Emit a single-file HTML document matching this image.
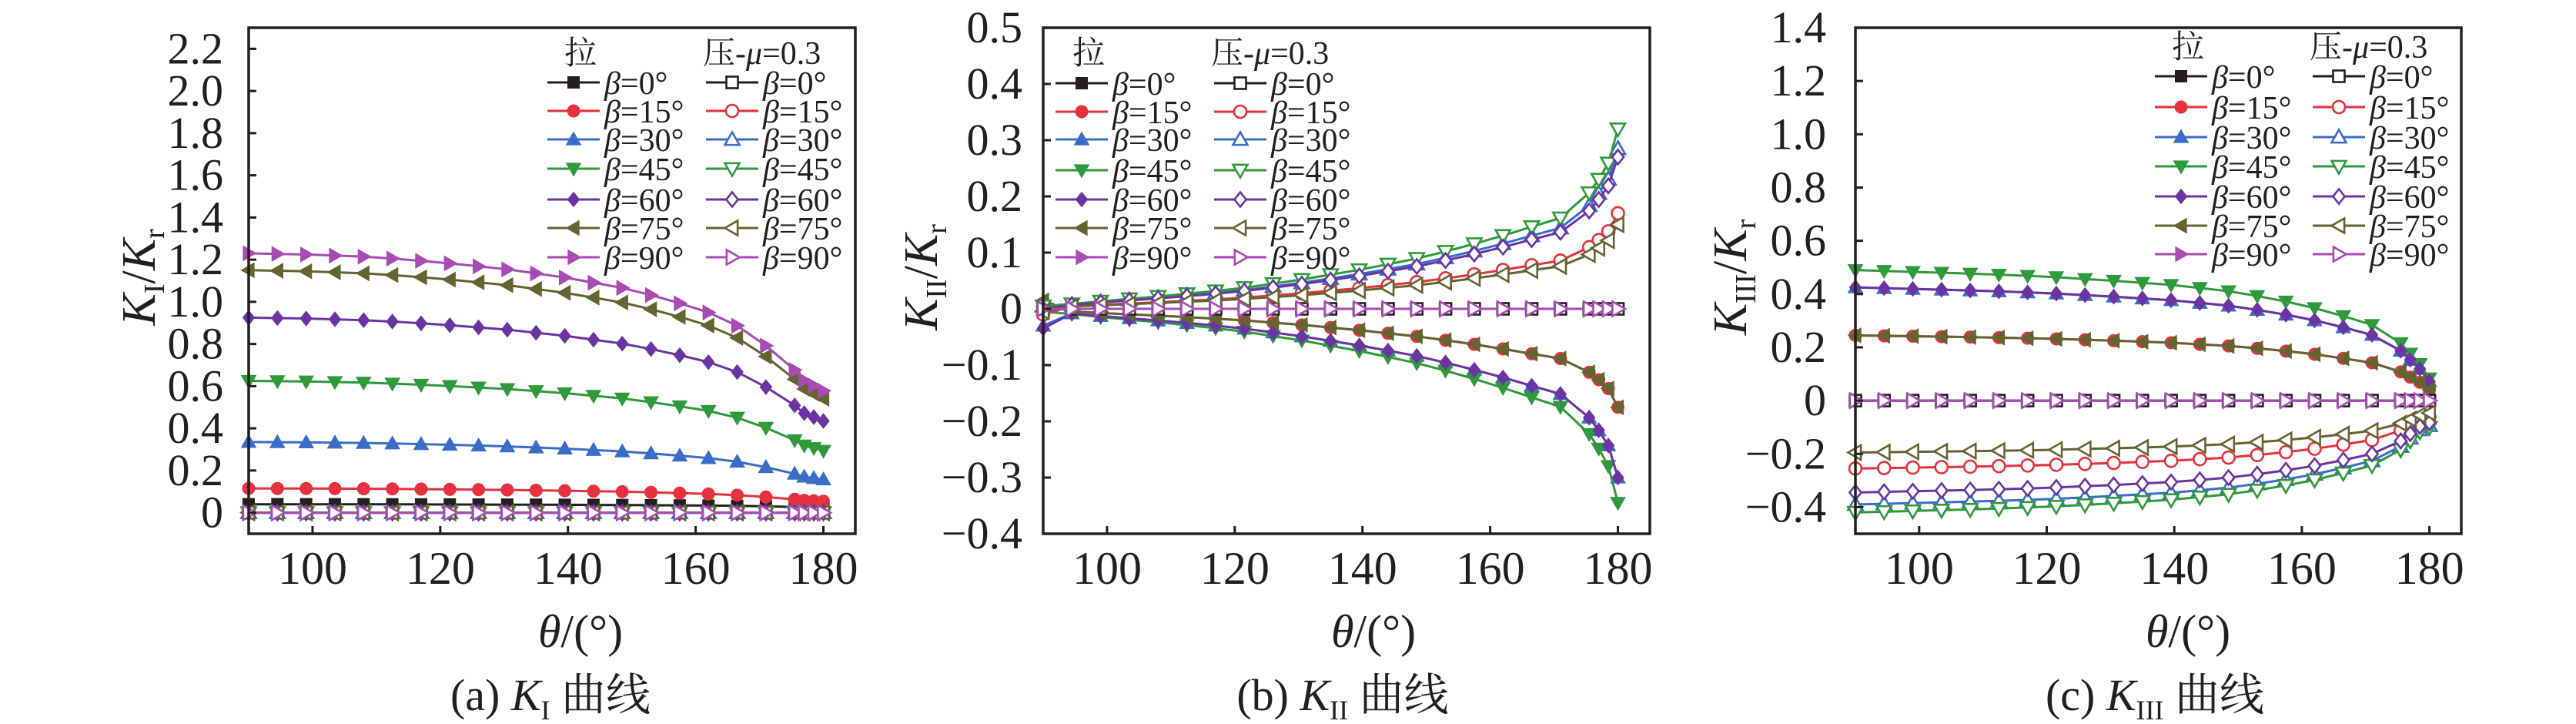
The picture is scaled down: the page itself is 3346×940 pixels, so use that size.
<!DOCTYPE html>
<html><head><meta charset="utf-8">
<style>
html,body{margin:0;padding:0;background:#fff;}
svg{display:block;}
.ser{font-family:"Liberation Serif","Noto Serif CJK SC",serif;}
.cjk{font-family:"Liberation Serif","Noto Serif CJK SC","Noto Sans CJK SC",serif;}
</style></head>
<body>
<svg id="s" xmlns="http://www.w3.org/2000/svg" width="3346" height="940" viewBox="0 0 3346 940"></svg>
<script>
const TH=[];for(let t=90;t<=175.6;t+=4.5)TH.push(+t.toFixed(1));TH.push(177,178.5,180);
function interp(pts,x){for(let i=0;i<pts.length-1;i++){if(x>=pts[i][0]&&x<=pts[i+1][0]){const t=(x-pts[i][0])/(pts[i+1][0]-pts[i][0]);return pts[i][1]+t*(pts[i+1][1]-pts[i][1]);}}return pts[pts.length-1][1];}
const fA=[[90,1],[100,0.995],[110,0.985],[120,0.965],[130,0.94],[140,0.905],[150,0.86],[160,0.79],[165,0.745],[170,0.665],[175.5,0.55],[177,0.51],[178.5,0.49],[180,0.47]];
const fB=[[90,0],[95,0.03],[100,0.045],[110,0.075],[120,0.11],[130,0.16],[140,0.22],[150,0.29],[160,0.385],[165,0.44],[171,0.505],[175.5,0.645],[177,0.72],[178.5,0.81],[180,1]];
const fC=[[90,1],[100,0.985],[110,0.97],[120,0.95],[130,0.92],[140,0.885],[150,0.83],[160,0.735],[165,0.67],[171,0.58],[175.5,0.44],[177,0.36],[178.5,0.28],[180,0.17]];
const COL=['#231f20','#e6323e','#3a6cc8','#2f9a3c','#6b34a3','#646432','#a84bb5'];
const MK=['sq','ci','tu','td','di','tl','tr'];
const BET=['0','15','30','45','60','75','90'];
function marker(type,x,y,c,open){
  const r=9.5;const f=open?'#fff':c;const sw=open?2.6:1;
  const st=`fill="${f}" stroke="${c}" stroke-width="${sw}"`;
  let p;
  switch(type){
    case 'sq':return `<rect x="${x-7.5}" y="${y-7.5}" width="15" height="15" ${st}/>`;
    case 'ci':return `<circle cx="${x}" cy="${y}" r="8" ${st}/>`;
    case 'tu':p=[[x,y-r],[x+r,y+r*0.75],[x-r,y+r*0.75]];break;
    case 'td':p=[[x,y+r],[x+r,y-r*0.75],[x-r,y-r*0.75]];break;
    case 'di':p=[[x,y-r],[x+r*0.8,y],[x,y+r],[x-r*0.8,y]];break;
    case 'tl':p=[[x-r,y],[x+r*0.75,y-r],[x+r*0.75,y+r]];break;
    case 'tr':p=[[x+r,y],[x-r*0.75,y-r],[x-r*0.75,y+r]];break;
  }
  return `<polygon points="${p.map(q=>q.join(',')).join(' ')}" ${st}/>`;
}
const panels=[
 {L:323,R:1111,T:36,B:693,ymin:-0.1,ymax:2.3,ticks:[0,0.2,0.4,0.6,0.8,1.0,1.2,1.4,1.6,1.8,2.0,2.2],labR:290,ylx:181,sub:'I',cap:'(a) ',capx:715,thx:754,
  legX1:711,legX2:917,legY:[107,144,181,219,259,296,334],hdY:68,
  ten:(i,t)=>{const A=[0.04,0.115,0.335,0.625,0.925,1.15,1.23][i];if(i==0)return 0.04-0.015*(1-interp(fA,t))/0.53;return A*interp(fA,t);},
  com:(i,t)=>0},
 {L:1355,R:2143,T:36,B:693,ymin:-0.4,ymax:0.5,ticks:[-0.4,-0.3,-0.2,-0.1,0,0.1,0.2,0.3,0.4,0.5],labR:1328,ylx:1197,sub:'II',cap:'(b) ',capx:1744,thx:1784,
  legX1:1371,legX2:1577,legY:[108,145,181,221,259,296,334],hdY:68,
  ten:(i,t)=>{const A=[0,-0.175,-0.30,-0.345,-0.30,-0.175,0][i];let v=A*interp(fB,t);if(t==90)v+=[0,0.01,-0.03,-0.005,-0.035,0.015,0][i];return v;},
  com:(i,t)=>{const A=[0,0.17,0.285,0.32,0.27,0.15,0][i];let v=A*interp(fB,t);if(t==90)v+=[0,-0.01,0.005,0.005,0.0,-0.005,0][i];return v;}},
 {L:2410,R:3197,T:36,B:693,ymin:-0.5,ymax:1.4,ticks:[-0.4,-0.2,0,0.2,0.4,0.6,0.8,1.0,1.2,1.4],labR:2372,ylx:2248,sub:'III',cap:'(c) ',capx:2799,thx:2842,
  legX1:2799,legX2:3004,legY:[99,139,178,216,255,293,330],hdY:60,
  ten:(i,t)=>{const A=[0,0.245,0.425,0.49,0.425,0.245,0][i];return A*interp(fC,t);},
  com:(i,t)=>{const A=[0,-0.255,-0.39,-0.42,-0.345,-0.195,0][i];let f=interp(fC,t);if(t==180)f=0.24;return A*f;}}
];
let s='';
panels.forEach(P=>{
  const X=t=>P.L+(t-90)/(95)*(P.R-P.L);
  const Y=v=>P.B-(v-P.ymin)/(P.ymax-P.ymin)*(P.B-P.T);
  const drawSeries=(fn,open)=>{
    for(let i=0;i<7;i++){
      const pts=TH.map(t=>[X(t),Y(fn(i,t))]);
      s+=`<polyline points="${pts.map(p=>p[0].toFixed(1)+','+p[1].toFixed(1)).join(' ')}" fill="none" stroke="${COL[i]}" stroke-width="3"/>`;
      pts.forEach(p=>s+=marker(MK[i],p[0],p[1],COL[i],open));
    }
  };
  drawSeries(P.ten,false);
  drawSeries(P.com,true);
  s+=`<rect x="${P.L}" y="${P.T}" width="${P.R-P.L}" height="${P.B-P.T}" fill="none" stroke="#231f20" stroke-width="3.5"/>`;
  P.ticks.forEach(v=>{const y=Y(v);
    s+=`<line x1="${P.L}" y1="${y}" x2="${P.L+10}" y2="${y}" stroke="#231f20" stroke-width="3"/>`;
    let lab=v==0?'0':(v<0?'\u2212'+Math.abs(v).toFixed(1):v.toFixed(1));
    s+=`<text x="${P.labR}" y="${y+19}" class="ser" font-size="58" text-anchor="end" fill="#231f20">${lab}</text>`;});
  [100,120,140,160,180].forEach(t=>{const x=X(t);
    s+=`<line x1="${x}" y1="${P.B}" x2="${x}" y2="${P.B-10}" stroke="#231f20" stroke-width="3"/>`;
    s+=`<text x="${x}" y="${758}" class="ser" font-size="60" text-anchor="middle" fill="#231f20">${t}</text>`;});
  s+=`<text transform="translate(${P.ylx+20},360) rotate(-90)" class="ser" font-size="62" text-anchor="middle" fill="#231f20"><tspan font-style="italic">K</tspan><tspan font-size="38" dy="12">${P.sub}</tspan><tspan dy="-12">/</tspan><tspan font-style="italic">K</tspan><tspan font-size="38" dy="12">r</tspan></text>`;
  s+=`<text x="${P.thx}" y="840" class="ser" font-size="60" text-anchor="middle" fill="#231f20"><tspan font-style="italic">θ</tspan>/(°)</text>`;
  s+=`<text x="${P.capx}" y="922" class="cjk" font-size="58" text-anchor="middle" fill="#231f20">${P.cap}<tspan font-style="italic">K</tspan><tspan font-size="36" dy="12">${P.sub}</tspan><tspan dy="-12"> 曲线</tspan></text>`;
  s+=`<text x="${P.legX1+22}" y="${P.hdY+15}" class="cjk" font-size="42" fill="#231f20">拉</text>`;
  s+=`<text x="${P.legX2-4}" y="${P.hdY+15}" class="cjk" font-size="42" fill="#231f20">压-<tspan font-style="italic">μ</tspan>=0.3</text>`;
  for(let i=0;i<7;i++){const y=P.legY[i];
    [[P.legX1,false],[P.legX2,true]].forEach(([x0,open])=>{
      s+=`<line x1="${x0}" y1="${y}" x2="${x0+68}" y2="${y}" stroke="${COL[i]}" stroke-width="3"/>`;
      s+=marker(MK[i],x0+34,y,COL[i],open);
      s+=`<text x="${x0+74}" y="${y+15}" class="ser" font-size="42" fill="#231f20"><tspan font-style="italic">β</tspan>=${BET[i]}°</text>`;
    });
  }
});
document.getElementById('s').innerHTML=s;
</script>
</body></html>
